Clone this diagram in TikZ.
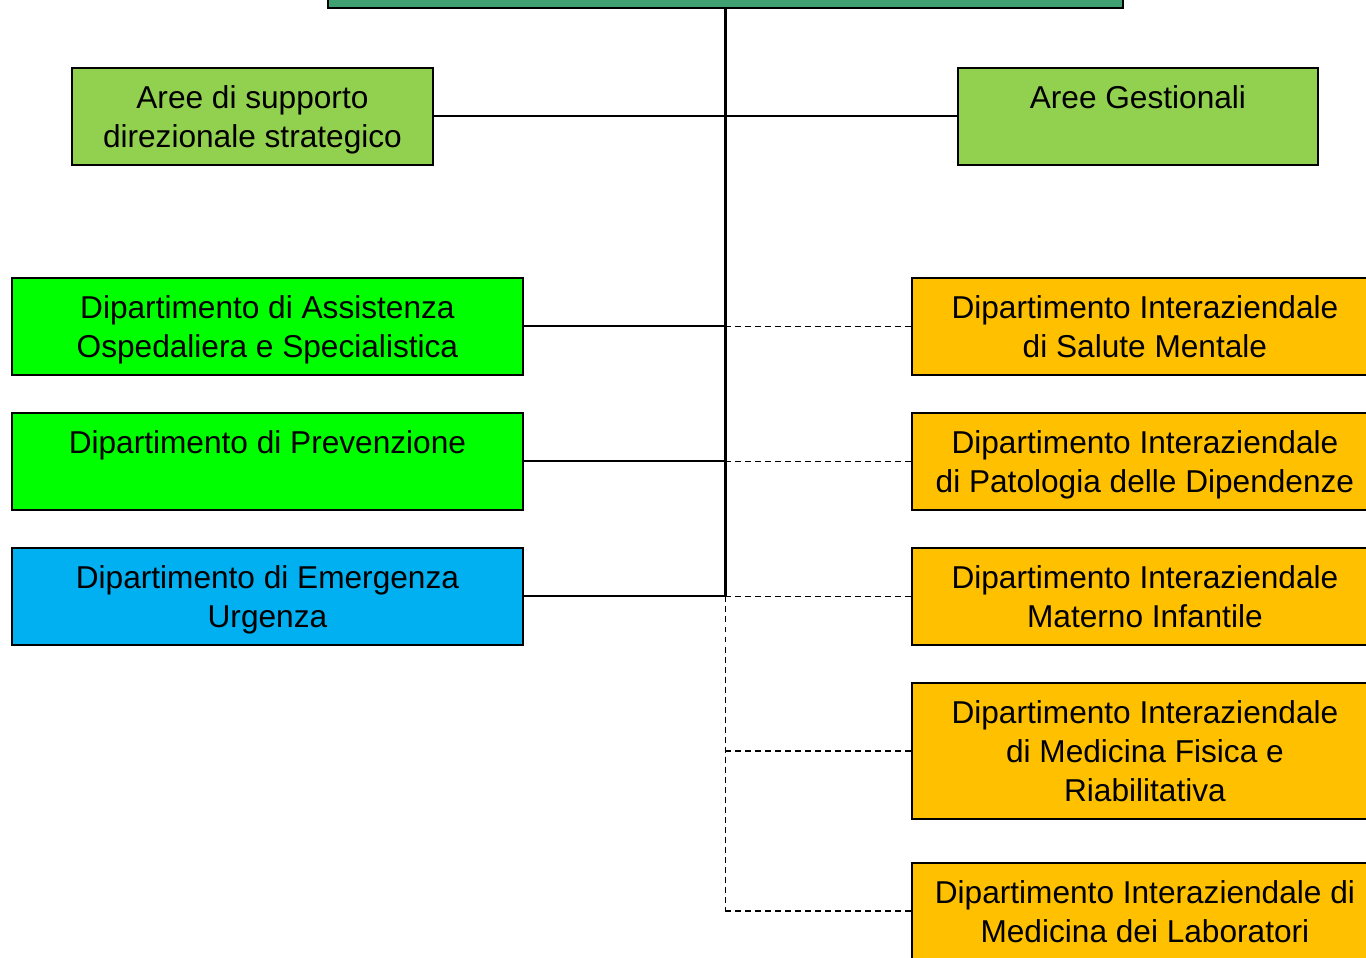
\documentclass[tikz,border=0pt]{standalone}
\usepackage{fontspec}
\setmainfont{Liberation Sans}
\usetikzlibrary{calc}
\definecolor{verdescuro}{HTML}{3FA071}
\definecolor{verdechiaro}{HTML}{92D050}
\definecolor{verdeacceso}{HTML}{00FF00}
\definecolor{azzurro}{HTML}{00B0F0}
\definecolor{arancio}{HTML}{FFC000}
% box content: height, width, text (top aligned)
\newcommand{\casella}[3]{\parbox[c][#1][t]{#2}{\centering\rule{0pt}{22.8pt}#3}}

\begin{document}
\begin{tikzpicture}[x=0.02cm,y=-0.02cm,
		ufficio/.style={draw,line width=1.1pt,inner sep=0pt,anchor=north west,
			font=\fontsize{18}{22.2}\selectfont},
		linea/.style={line width=1.1pt},
		tratteggio/.style={line width=1pt,dash pattern=on 3.4pt off 2.3pt}]
			\clip (0,0) rectangle (1366,957);
			
			\node[ufficio,fill=verdescuro,minimum width=15.9cm,minimum height=1.14cm] (dir) at (327,-50) {};
			
			\node[ufficio,fill=verdechiaro] (supp) at (71,67) {\casella{1.94cm}{7.22cm}{Aree di supporto\\direzionale strategico}};
			\node[ufficio,fill=verdechiaro] (gest) at (957,67) {\casella{1.94cm}{7.2cm}{Aree Gestionali}};
			
			\node[ufficio,fill=verdeacceso] (assist) at (11,277) {\casella{1.94cm}{10.22cm}{Dipartimento di Assistenza\\Ospedaliera e Specialistica}};
			\node[ufficio,fill=verdeacceso] (prev) at (11,412) {\casella{1.94cm}{10.22cm}{Dipartimento di Prevenzione}};
			\node[ufficio,fill=azzurro] (emerg) at (11,547) {\casella{1.94cm}{10.22cm}{Dipartimento di Emergenza\\Urgenza}};
			
			\node[ufficio,fill=arancio] (salute) at (911,277) {\casella{1.94cm}{9.32cm}{Dipartimento Interaziendale\\di Salute Mentale}};
			\node[ufficio,fill=arancio] (dipend) at (911,412) {\casella{1.94cm}{9.32cm}{Dipartimento Interaziendale\\di Patologia delle Dipendenze}};
			\node[ufficio,fill=arancio] (materno) at (911,547) {\casella{1.94cm}{9.32cm}{Dipartimento Interaziendale\\Materno Infantile}};
			\node[ufficio,fill=arancio] (fisica) at (911,682) {\casella{2.72cm}{9.32cm}{Dipartimento Interaziendale\\di Medicina Fisica e\\Riabilitativa}};
			\node[ufficio,fill=arancio] (lab) at (911,862) {\casella{1.92cm}{9.32cm}{Dipartimento Interaziendale di\\Medicina dei Laboratori}};
			
			% tronco principale
			\draw[line width=1.6pt] (dir.south) -- (dir.south |- emerg.east);
			\draw[tratteggio] (dir.south |- emerg.east) -- (dir.south |- lab.west);
			
			\draw[linea] (supp.east) -- (supp.east -| dir.south);
			\draw[linea] (gest.west) -- (gest.west -| dir.south);
			\draw[linea] (assist.east) -- (assist.east -| dir.south);
			\draw[linea] (prev.east) -- (prev.east -| dir.south);
			\draw[linea] (emerg.east) -- (emerg.east -| dir.south);
			
			\draw[tratteggio] (salute.west) -- (salute.west -| dir.south);
			\draw[tratteggio] (dipend.west) -- (dipend.west -| dir.south);
			\draw[tratteggio] (materno.west) -- (materno.west -| dir.south);
			\draw[tratteggio] (fisica.west) -- (fisica.west -| dir.south);
			\draw[tratteggio] (lab.west) -- (lab.west -| dir.south);
\end{tikzpicture}
\end{document}
